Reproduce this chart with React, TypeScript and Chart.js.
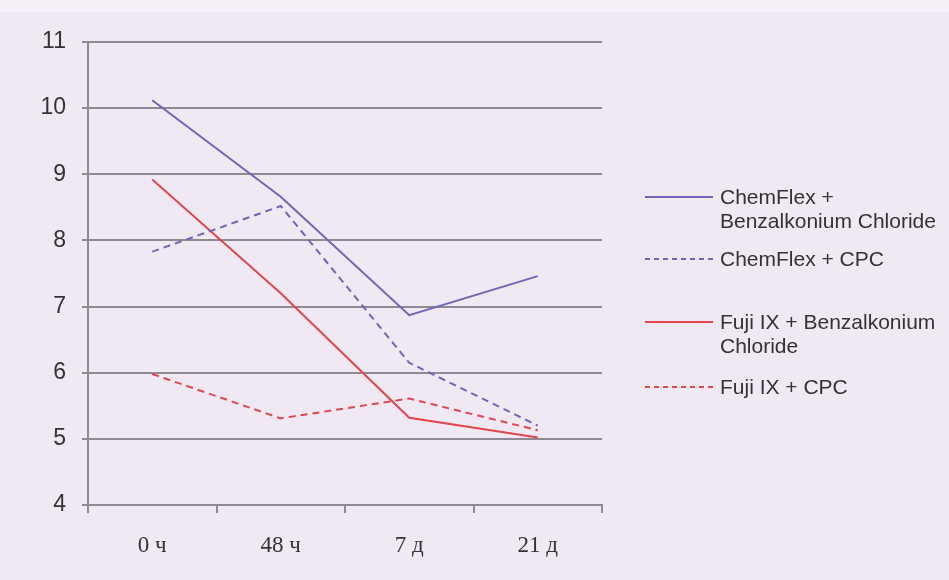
import React, { useEffect, useRef } from "react";
import { Chart, registerables } from "chart.js";

Chart.register(...registerables);

const categories = ["0 ч", "48 ч", "7 д", "21 д"];
const chemFlexBAC = [10.12, 8.66, 6.87, 7.46];
const chemFlexCPC = [7.83, 8.52, 6.15, 5.2];
const fujiBAC = [8.92, 7.2, 5.32, 5.02];
const fujiCPC = [5.98, 5.31, 5.61, 5.13];
const yTicks = [4, 5, 6, 7, 8, 9, 10, 11];
const legendLabels = [
  ["ChemFlex +", "Benzalkonium Chloride"],
  ["ChemFlex + CPC"],
  ["Fuji IX + Benzalkonium", "Chloride"],
  ["Fuji IX + CPC"],
];

const BLUE = "#6e66b8";
const RED = "#e2474c";
const GRID = "#8d8a93";
const TEXT = "#333235";
const BG = "#f0e8f2";

export default function App() {
  const ref = useRef<HTMLCanvasElement | null>(null);

  useEffect(() => {
    if (!ref.current) return;
    const bgPlugin = {
      id: "bg",
      beforeDraw(chart: any) {
        const { ctx, width, height } = chart;
        ctx.save();
        ctx.fillStyle = BG;
        ctx.fillRect(0, 0, width, height);
        ctx.fillStyle = "#f6eff8";
        ctx.fillRect(0, 0, width, 12);
        ctx.restore();
      },
    };
    const legendPlugin = {
      id: "customLegend",
      afterDraw(chart: any) {
        const { ctx } = chart;
        const items = [
          { y: 197, color: BLUE, dash: [] as number[] },
          { y: 259, color: BLUE, dash: [5, 4] },
          { y: 322, color: RED, dash: [] as number[] },
          { y: 387, color: RED, dash: [5, 4] },
        ];
        ctx.save();
        items.forEach((it, i) => {
          ctx.beginPath();
          ctx.setLineDash(it.dash);
          ctx.strokeStyle = it.color;
          ctx.lineWidth = 2;
          ctx.moveTo(645, it.y);
          ctx.lineTo(713, it.y);
          ctx.stroke();
          ctx.setLineDash([]);
          ctx.fillStyle = TEXT;
          ctx.font = "21px 'Liberation Sans', Arial, sans-serif";
          ctx.textBaseline = "middle";
          ctx.textAlign = "left";
          legendLabels[i].forEach((line, j) => {
            ctx.fillText(line, 720, it.y + 1 + j * 24);
          });
        });
        ctx.restore();
      },
    };

    const chart = new Chart(ref.current, {
      type: "line",
      data: {
        labels: categories,
        datasets: [
          { label: legendLabels[0].join(" "), data: chemFlexBAC, borderColor: BLUE, borderWidth: 2, pointRadius: 0, tension: 0 },
          { label: legendLabels[1].join(" "), data: chemFlexCPC, borderColor: BLUE, borderWidth: 2, borderDash: [7, 5], pointRadius: 0, tension: 0 },
          { label: legendLabels[2].join(" "), data: fujiBAC, borderColor: RED, borderWidth: 2, pointRadius: 0, tension: 0 },
          { label: legendLabels[3].join(" "), data: fujiCPC, borderColor: RED, borderWidth: 2, borderDash: [7, 5], pointRadius: 0, tension: 0 },
        ],
      },
      options: {
        animation: false,
        responsive: false,
        maintainAspectRatio: false,
        layout: { padding: { left: 0, right: 347, top: 42, bottom: 0 } },
        plugins: { legend: { display: false }, tooltip: { enabled: false } },
        scales: {
          x: {
            type: "category",
            offset: true,
            grid: {
              display: true,
              drawOnChartArea: false,
              drawTicks: true,
              tickLength: 8,
              offset: true,
              color: GRID,
              lineWidth: 2,
            },
            border: { display: true, color: GRID, width: 2 },
            ticks: {
              font: { family: "'Liberation Serif', 'Times New Roman', serif", size: 23 },
              color: TEXT,
              padding: 19,
            },
            afterFit: (s: any) => {
              s.height = 75;
            },
          },
          y: {
            min: 4,
            max: 11,
            afterBuildTicks: (s: any) => {
              s.ticks = yTicks.map((v) => ({ value: v }));
            },
            ticks: {
              font: { family: "'Liberation Sans', Arial, sans-serif", size: 23 },
              color: TEXT,
              padding: 16,
            },
            grid: { color: GRID, lineWidth: 2, tickLength: 6 },
            border: { display: true, color: GRID, width: 2 },
            afterFit: (s: any) => {
              s.width = 88;
            },
          },
        },
      },
      plugins: [bgPlugin, legendPlugin],
    });
    return () => chart.destroy();
  }, []);

  return (
    <div style={{ position: "fixed", left: 0, top: 0, width: 949, height: 580, background: BG }}>
      <canvas ref={ref} width={949} height={580} style={{ display: "block", width: 949, height: 580 }} />
    </div>
  );
}
